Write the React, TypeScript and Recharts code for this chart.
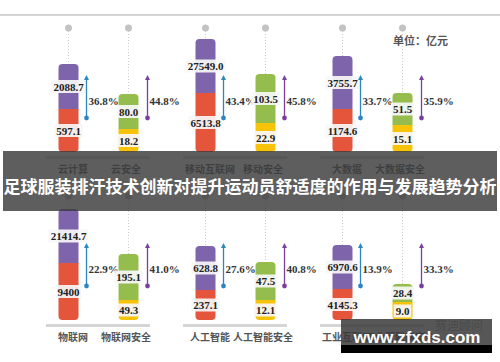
import React from 'react';
import { ComposedChart, Bar, XAxis, YAxis, Rectangle } from 'recharts';

// top row
const topIndustry = ['云计算', '移动互联网', '大数据'];
const topSecurity = ['云安全', '移动安全', '大数据安全'];
const topIndTotal = ['2088.7', '27549.0', '3755.7'];
const topIndPart = ['597.1', '6513.8', '1174.6'];
const topSecTotal = ['80.0', '103.5', '51.5'];
const topSecPart = ['18.2', '22.9', '15.1'];
const topIndGrowth = ['36.8%', '43.4%', '33.7%'];
const topSecGrowth = ['44.8%', '45.8%', '35.9%'];
// segment lengths as drawn (the bars are not to scale)
const topIndLow = [43, 59, 43];
const topIndHigh = [45, 54, 53];
const topSecLow = [23, 29, 27];
const topSecHigh = [35, 49, 32];

// bottom row
const botIndustry = ['物联网', '人工智能', '工业互联网'];
const botSecurity = ['物联网安全', '人工智能安全', '工业互联网安全'];
const botIndTotal = ['21414.7', '628.8', '6970.6'];
const botIndPart = ['9400', '237.1', '4145.3'];
const botSecTotal = ['195.1', '47.5', '28.4'];
const botSecPart = ['49.3', '12.1', '9.0'];
const botIndGrowth = ['22.9%', '27.6%', '13.9%'];
const botSecGrowth = ['41.0%', '40.8%', '33.3%'];
const botIndLow = [57, 30, 31];
const botIndHigh = [54, 44, 44];
const botSecLow = [20, 20, 18];
const botSecHigh = [46, 38, 18];

const PURPLE = '#7e64aa';
const RED = '#e4553c';
const GREEN = '#95bd4e';
const YELLOW = '#f6c309';
const BLUE_ARROW = '#2d86c4';
const PURPLE_ARROW = '#7b3f9f';

const CHART_H = 184;
const AXIS_H = 32;
const BASE = CHART_H - AXIS_H; // plot bottom inside each chart
const NUM_FONT = '"Liberation Serif", "Times New Roman", serif';
const CJK_FONT = '"Noto Sans CJK SC", sans-serif';

type Row = {
  industry: string;
  security: string;
  indLow: number;
  indHigh: number;
  secLow: number;
  secHigh: number;
  indTotal: string;
  indPart: string;
  secTotal: string;
  secPart: string;
  indGrowth: string;
  secGrowth: string;
};

const buildRows = (
  industry: string[], security: string[],
  indLow: number[], indHigh: number[], secLow: number[], secHigh: number[],
  indTotal: string[], indPart: string[], secTotal: string[], secPart: string[],
  indGrowth: string[], secGrowth: string[]
): Row[] =>
  industry.map((name, i) => ({
    industry: name,
    security: security[i],
    indLow: indLow[i],
    indHigh: indHigh[i],
    secLow: secLow[i],
    secHigh: secHigh[i],
    indTotal: indTotal[i],
    indPart: indPart[i],
    secTotal: secTotal[i],
    secPart: secPart[i],
    indGrowth: indGrowth[i],
    secGrowth: secGrowth[i],
  }));

const topRows = buildRows(topIndustry, topSecurity, topIndLow, topIndHigh, topSecLow, topSecHigh,
  topIndTotal, topIndPart, topSecTotal, topSecPart, topIndGrowth, topSecGrowth);
const botRows = buildRows(botIndustry, botSecurity, botIndLow, botIndHigh, botSecLow, botSecHigh,
  botIndTotal, botIndPart, botSecTotal, botSecPart, botIndGrowth, botSecGrowth);

const textWidth = (s: string) =>
  s.split('').reduce((w, c) => w + (c === '.' ? 2.75 : 5.5), 0);

const ValueTag = ({ cx, cy, text }: { cx: number; cy: number; text: string }) => {
  const w = textWidth(text) + 4;
  return (
    <g>
      <rect x={cx - w / 2} y={cy - 6.5} width={w} height={13} fill="#f7f7f7" opacity={0.92} />
      <text x={cx} y={cy} textAnchor="middle" dominantBaseline="central"
        fontFamily={NUM_FONT} fontWeight="bold" fontSize={11} fill="#222">{text}</text>
    </g>
  );
};

const lowerShape = (labelKey: 'indPart' | 'secPart') => (props: any) => {
  const { x, y, width, height, fill, payload } = props;
  return (
    <g>
      <Rectangle x={x} y={y} width={width} height={height} fill={fill} radius={[0, 0, 4, 4]} />
      <ValueTag cx={x + width / 2} cy={y + height / 2} text={payload[labelKey]} />
    </g>
  );
};

const upperShape = (
  labelKey: 'indTotal' | 'secTotal',
  growthKey: 'indGrowth' | 'secGrowth',
  arrowColor: string,
  arrowGap: number
) => (props: any) => {
  const { x, y, width, height, fill, payload } = props;
  const cx = x + width / 2;
  const ax = x + width + arrowGap;
  const dotY = BASE - 124;
  return (
    <g>
      <line x1={cx} y1={dotY} x2={cx} y2={y} stroke="#cdcdcd" strokeWidth={1} strokeDasharray="1 2" />
      <circle cx={cx} cy={dotY} r={3.5} fill="#c3c3c3" />
      <Rectangle x={x} y={y} width={width} height={height} fill={fill} radius={[4, 4, 0, 0]} />
      <ValueTag cx={cx} cy={y + height / 2} text={payload[labelKey]} />
      <line x1={ax} y1={BASE - 73} x2={ax} y2={BASE - 34} stroke={arrowColor} strokeWidth={1.3} />
      <path d={`M${ax - 2.5},${BASE - 72} L${ax},${BASE - 77} L${ax + 2.5},${BASE - 72} Z`} fill={arrowColor} />
      <circle cx={ax} cy={BASE - 34} r={2.4} fill={arrowColor} />
      <text x={ax + 2} y={BASE - 51} dominantBaseline="central" fontFamily={NUM_FONT}
        fontWeight="bold" fontSize={11} fill="#333">{payload[growthKey]}</text>
    </g>
  );
};

const makeTick = (rows: Row[]) => (props: any) => {
  const { x, payload } = props;
  const row = rows.find((r) => r.industry === payload.value);
  return (
    <g>
      <rect x={x - 52} y={BASE + 4} width={104} height={3} fill="#d5d5d5" />
      <text x={x - 25} y={BASE + 16} textAnchor="middle" dominantBaseline="central"
        fontFamily={CJK_FONT} fontWeight="bold" fontSize={10} fill="#555">{payload.value}</text>
      <text x={x + 28} y={BASE + 16} textAnchor="middle" dominantBaseline="central"
        fontFamily={CJK_FONT} fontWeight="bold" fontSize={10} fill="#555">{row ? row.security : ''}</text>
    </g>
  );
};

const PairRow = ({ rows, top }: { rows: Row[]; top: number }) => (
  <div style={{ position: 'absolute', left: 0, top }}>
    <ComposedChart width={500} height={CHART_H} data={rows}
      margin={{ top: 10, right: 59.5, bottom: 0, left: 29.5 }} barSize={20} barGap={40}>
      <XAxis dataKey="industry" height={AXIS_H} axisLine={false} tickLine={false}
        interval={0} tick={makeTick(rows)} />
      <YAxis hide domain={[0, 142]} allowDataOverflow />
      <Bar dataKey="indLow" stackId="ind" fill={RED} isAnimationActive={false} shape={lowerShape('indPart')} />
      <Bar dataKey="indHigh" stackId="ind" fill={PURPLE} isAnimationActive={false}
        shape={upperShape('indTotal', 'indGrowth', BLUE_ARROW, 8)} />
      <Bar dataKey="secLow" stackId="sec" fill={YELLOW} isAnimationActive={false} shape={lowerShape('secPart')} />
      <Bar dataKey="secHigh" stackId="sec" fill={GREEN} isAnimationActive={false}
        shape={upperShape('secTotal', 'secGrowth', PURPLE_ARROW, 9)} />
    </ComposedChart>
  </div>
);

export default function App() {
  return (
    <div style={{ position: 'absolute', left: 0, top: 0, width: 500, height: 362, background: '#fff', overflow: 'hidden' }}>
      <svg width={500} height={362} style={{ position: 'absolute', left: 0, top: 0 }}>
        <rect x={0} y={14} width={500} height={2} fill="#d4d4d4" />
      </svg>
      <PairRow rows={topRows} top={0} />
      <PairRow rows={botRows} top={168} />
      <svg width={500} height={362} style={{ position: 'absolute', left: 0, top: 0, pointerEvents: 'none' }}>
        <text x={393} y={40} dominantBaseline="central" fontFamily={CJK_FONT} fontWeight="bold"
          fontSize={11} fill="#555">单位：亿元</text>
        <rect x={3} y={151} width={494} height={60} fill="#3a3a3a" opacity={0.82} />
        <text x={250} y={185} textAnchor="middle" dominantBaseline="central" fontFamily={CJK_FONT}
          fontWeight="bold" fontSize={17} fill="#fff">足球服装排汗技术创新对提升运动员舒适度的作用与发展趋势分析</text>
        <text x={435} y={324} dominantBaseline="central" fontFamily={CJK_FONT} fontSize={12} fill="#aaa">赛迪顾问</text>
        <rect x={341} y={319} width={151} height={26} fill="#3a3a3a" opacity={0.85} />
        <rect x={341} y={345} width={151} height={8} fill="#000" />
        <text x={417} y={337} textAnchor="middle" dominantBaseline="central"
          fontFamily='"Liberation Sans", Arial, sans-serif' fontWeight="bold" fontSize={17} fill="#fff">www.zfxds.com</text>
      </svg>
    </div>
  );
}
